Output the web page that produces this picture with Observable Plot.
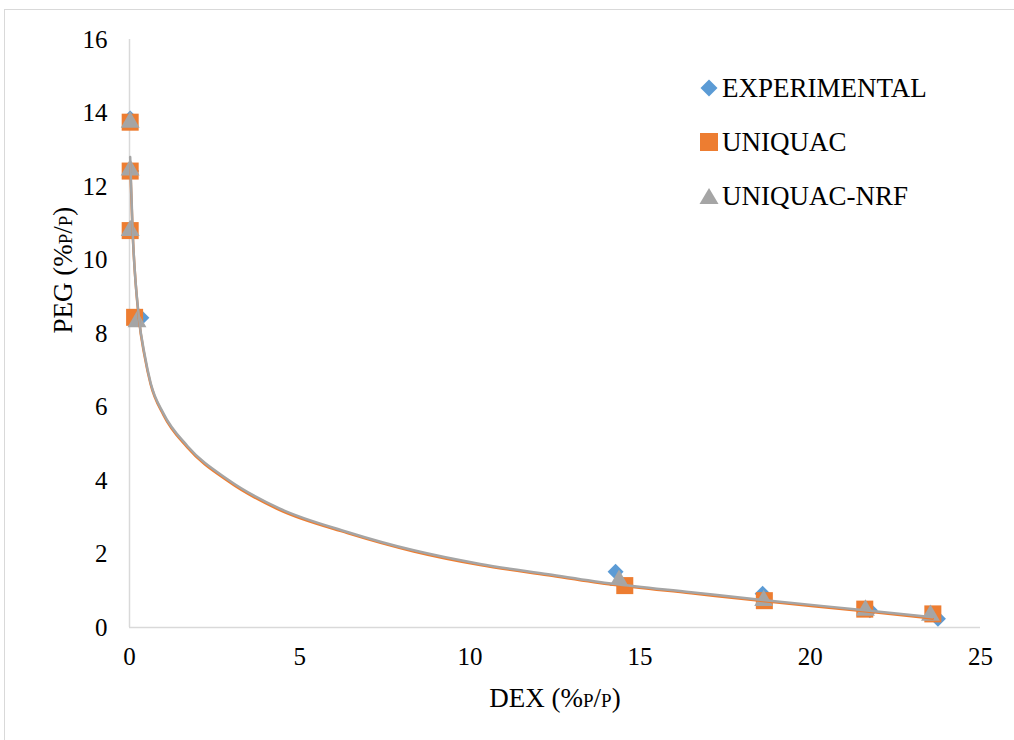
<!DOCTYPE html>
<html>
<head>
<meta charset="utf-8">
<script src="https://cdn.jsdelivr.net/npm/d3@7"></script>
<script src="https://cdn.jsdelivr.net/npm/@observablehq/plot@0.6"></script>
<style>
  body { margin: 0; background: #fff; }
  #wrap { position: relative; width: 1014px; height: 740px; overflow: hidden; font-family: "Liberation Serif", "Times New Roman", serif; }
  #border { position: absolute; left: 4px; top: 9px; width: 1030px; height: 760px; border: 1px solid #d9d9d9; box-sizing: border-box; }
  #chart { position: absolute; left: 0; top: 0; }
  #legend { position: absolute; left: 699px; top: 61px; font-size: 27px; color: #000; }
  #legend .row { display: flex; align-items: center; height: 54px; }
  #legend svg { width: 20px; height: 20px; margin-right: 3px; }
</style>
</head>
<body>
<div id="wrap">
  <div id="border"></div>
  <div id="chart"></div>
  <div id="legend"></div>
</div>
<script>
// Series data
const expX = [0.02, 0.05, 0.02, 0.35, 14.28, 18.6, 21.75, 23.75];
const expY = [13.85, 12.42, 10.8, 8.43, 1.52, 0.92, 0.47, 0.24];
const uniX = [0.02, 0.02, 0.02, 0.15, 14.55, 18.65, 21.6, 23.6];
const uniY = [13.75, 12.42, 10.8, 8.44, 1.14, 0.73, 0.5, 0.37];
const nrfX = [0.02, 0.02, 0.02, 0.22, 14.38, 18.63, 21.62, 23.53];
const nrfY = [13.75, 12.45, 10.8, 8.32, 1.28, 0.73, 0.47, 0.33];
// Trend curves
const curveX = [0.02, 0.09, 0.27, 0.45, 0.62, 1.0, 1.7, 2.9, 4.4, 6.4, 8.35, 10.3, 12.3, 14.2, 16.5, 18.6, 21.6, 23.6];
const uniCurveY = [12.6, 10.8, 8.45, 7.35, 6.62, 5.78, 4.9, 3.98, 3.2, 2.57, 2.07, 1.7, 1.42, 1.16, 0.93, 0.72, 0.44, 0.24];
const nrfCurveY = [12.8, 10.85, 8.5, 7.4, 6.66, 5.82, 4.94, 4.02, 3.24, 2.6, 2.1, 1.73, 1.45, 1.19, 0.96, 0.75, 0.47, 0.28];
const xTicks = [0, 5, 10, 15, 20, 25];
const yTicks = [0, 2, 4, 6, 8, 10, 12, 14, 16];
const seriesNames = ["EXPERIMENTAL", "UNIQUAC", "UNIQUAC-NRF"];
const colors = ["#5b9bd5", "#ed7d31", "#a5a5a5"];

const pts = (xs, ys) => xs.map((x, i) => ({x, y: ys[i]}));
const exp = pts(expX, expY);
const uni = pts(uniX, uniY);
const nrf = pts(nrfX, nrfY);
const uniCurve = pts(curveX, uniCurveY);
const nrfCurve = pts(curveX, nrfCurveY);

const plot = Plot.plot({
  width: 1014,
  height: 740,
  marginLeft: 129,
  marginRight: 34,
  marginTop: 39,
  marginBottom: 113,
  style: { fontFamily: "'Liberation Serif', 'Times New Roman', serif", fontSize: "25px", color: "#000", background: "transparent", fontVariant: "small-caps" },
  x: { domain: [0, 25], ticks: xTicks, tickSize: 0, tickPadding: 20, label: null },
  y: { domain: [0, 16], ticks: yTicks, tickSize: 0, tickPadding: 22, label: null },
  marks: [
    Plot.ruleY([0], { stroke: "#d9d9d9", strokeWidth: 1.5 }),
    Plot.ruleX([0], { stroke: "#d9d9d9", strokeWidth: 1.5 }),
    Plot.dot(exp, { x: "x", y: "y", symbol: "diamond2", r: 7.2, fill: colors[0], stroke: "none" }),
    Plot.dot(uni, { x: "x", y: "y", symbol: "square", r: 9.6, fill: colors[1], stroke: "none" }),
    Plot.dot(nrf, { x: "x", y: "y", symbol: "triangle", r: 7, fill: colors[2], stroke: "none" }),
    Plot.line(uniCurve, { x: "x", y: "y", stroke: colors[1], strokeWidth: 2.5, curve: "monotone-x" }),
    Plot.line(nrfCurve, { x: "x", y: "y", stroke: colors[2], strokeWidth: 2.5, curve: "monotone-x" }),
    Plot.text(["DEX (%p/p)"], { frameAnchor: "bottom", dy: 79, fontSize: 27, fill: "#000" }),
    Plot.text(["PEG (%p/p)"], { frameAnchor: "left", dx: -66, rotate: -90, fontSize: 27, fill: "#000" })
  ]
});
document.getElementById("chart").appendChild(plot);

// Legend
const symPaths = [
  '<polygon points="10,1.5 18.5,10 10,18.5 1.5,10" fill="' + colors[0] + '"/>',
  '<rect x="1" y="1" width="18" height="18" fill="' + colors[1] + '"/>',
  '<polygon points="10,2 19.5,18 0.5,18" fill="' + colors[2] + '"/>'
];
const legend = document.getElementById("legend");
seriesNames.forEach((name, i) => {
  const row = document.createElement("div");
  row.className = "row";
  row.innerHTML = '<svg viewBox="0 0 20 20">' + symPaths[i] + '</svg><span>' + name + '</span>';
  legend.appendChild(row);
});
</script>
</body>
</html>
